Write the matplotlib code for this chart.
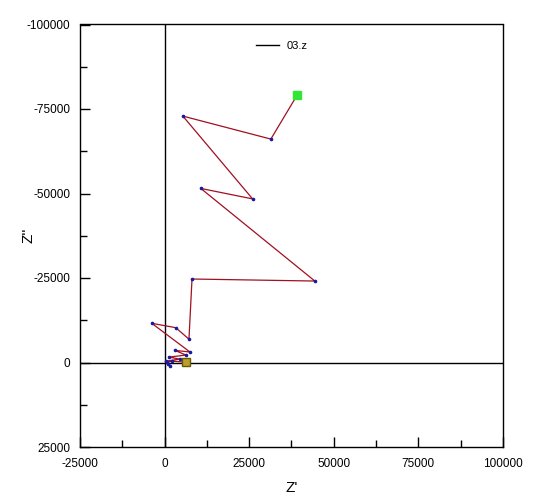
"""Nyquist plot of impedance file 03.z."""

import matplotlib

matplotlib.use("Agg")
import matplotlib.pyplot as plt
from matplotlib.ticker import MultipleLocator

z_real = [39100, 31400, 5400, 26000, 10700, 44400, 8100, 7200, 3300, -3800,
          7500, 3000, 6300, 1300, 4500, 400, 1000, 1600, 700, 2200, 6300]
z_imag = [-79000, -66100, -72900, -48400, -51500, -24100, -24700, -6900,
          -10300, -11600, -3100, -3600, -2200, -1600, -1000, -400, 500, 1100,
          -100, -400, -100]

x_ticks = [-25000, 0, 25000, 50000, 75000, 100000]
y_ticks = [-100000, -75000, -50000, -25000, 0, 25000]

plt.rcParams["font.family"] = ["Liberation Sans", "DejaVu Sans"]
plt.rcParams["axes.unicode_minus"] = False

fig = plt.figure(figsize=(5.48, 5.04), dpi=100)
ax = fig.add_axes([80 / 548, 1 - 447 / 504, 423 / 548, 422.5 / 504])

ax.axvline(0, color="black", lw=1, zorder=1)
ax.axhline(0, color="black", lw=1, zorder=1)

ax.plot(z_real, z_imag, color="#a01020", lw=0.9, zorder=2)
ax.plot(z_real, z_imag, ls="none", marker="o", ms=1.6, color="#1a1aa0", zorder=3)
ax.plot([], [], color="black", lw=1, label="03.z")

# start and end markers
ax.plot(z_real[0], z_imag[0], marker="s", ms=6, mfc="#33e633", mec="#33e633", zorder=4)
ax.plot(z_real[-1], z_imag[-1], marker="s", ms=5.5, mfc="#b8a030", mec="#6a5800", zorder=4)

ax.set_xlim(-25000, 100000)
ax.set_ylim(25000, -100000)
ax.set_xticks(x_ticks)
ax.set_yticks(y_ticks)
ax.xaxis.set_minor_locator(MultipleLocator(12500))
ax.yaxis.set_minor_locator(MultipleLocator(12500))
ax.tick_params(which="major", direction="in", length=7, width=1, labelsize=8.5, pad=8)
ax.tick_params(which="minor", direction="in", length=5, width=1)
ax.tick_params(axis="y", pad=7)
for side in ax.spines.values():
    side.set_linewidth(1)

ax.set_xlabel("Z'", fontsize=11, labelpad=8)
ax.set_ylabel("Z''", fontsize=11)
ax.yaxis.set_label_coords(-0.106, 0.5)

ax.legend(loc="center left", bbox_to_anchor=(0.416, 0.950), frameon=False,
          borderpad=0, borderaxespad=0, handlelength=2.1, handletextpad=0.7,
          fontsize=8)

fig.savefig("out.png", dpi=100)
